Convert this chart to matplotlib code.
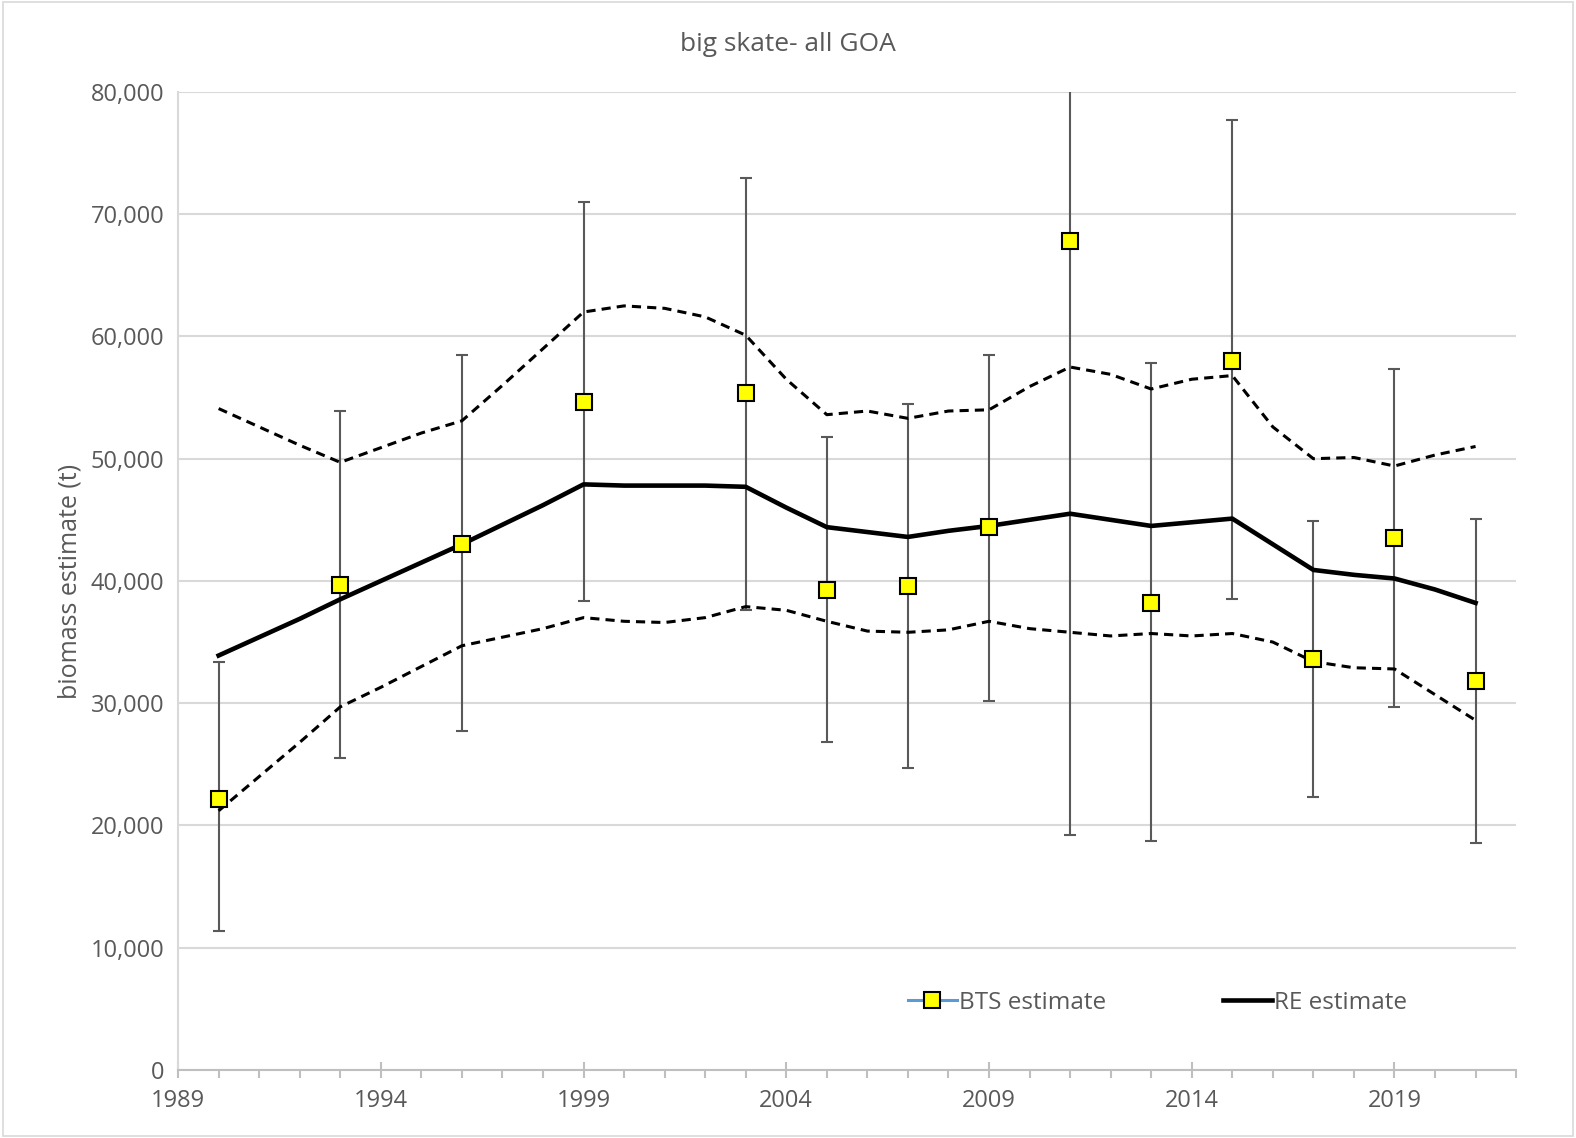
import numpy as np
import matplotlib.pyplot as plt
from matplotlib.lines import Line2D
from matplotlib.patches import Rectangle
from matplotlib.ticker import FuncFormatter, MultipleLocator, FixedLocator

# survey (BTS) estimates with error bar limits
bts_years = [1990, 1993, 1996, 1999, 2003, 2005, 2007, 2009, 2011, 2013, 2015, 2017, 2019, 2021]
bts_est = [22200, 39700, 43000, 54600, 55400, 39300, 39600, 44400, 67800, 38200, 58000, 33600, 43500, 31800]
bts_lo = [11400, 25500, 27700, 38400, 37600, 26800, 24700, 30200, 19200, 18700, 38500, 22300, 29700, 18600]
bts_hi = [33400, 53900, 58500, 71000, 73000, 51800, 54500, 58500, 86000, 57800, 77700, 44900, 57300, 45100]

# random effects model estimate and CI
re_years = list(range(1990, 2022))
re_est = [33900, 35400, 36900, 38500, 40000, 41500, 43000, 44600, 46200, 47900,
          47800, 47800, 47800, 47700, 46000, 44400, 44000, 43600, 44100, 44500,
          45000, 45500, 45000, 44500, 44800, 45100, 43000, 40900, 40500, 40200,
          39300, 38200]
re_hi = [54100, 52600, 51100, 49700, 50900, 52100, 53100, 56000, 59000, 62000,
         62500, 62300, 61600, 60100, 56500, 53600, 53900, 53300, 53900, 54000,
         55900, 57500, 56900, 55700, 56500, 56800, 52600, 50000, 50100, 49400,
         50300, 51000]
re_lo = [21200, 24000, 26800, 29700, 31300, 33000, 34700, 35400, 36100, 37000,
         36700, 36600, 37000, 37900, 37600, 36700, 35900, 35800, 36000, 36700,
         36100, 35800, 35500, 35700, 35500, 35700, 35000, 33400, 32900, 32800,
         30700, 28600]

x_ticks = list(range(1989, 2023, 5))

plt.rcParams['font.family'] = ['Open Sans', 'DejaVu Sans']
txt = '#595959'

fig = plt.figure(figsize=(15.76, 11.38), dpi=100)
ax = fig.add_axes([0.113, 0.0598, 0.849, 0.8594])

ax.yaxis.grid(True, color='#d9d9d9', linewidth=1.5)
ax.set_axisbelow(True)

est = np.array(bts_est)
yerr = [est - np.array(bts_lo), np.array(bts_hi) - est]
ax.errorbar(bts_years, bts_est, yerr=yerr, fmt='none', ecolor='#595959',
            elinewidth=1.5, capsize=4, capthick=1.5, zorder=2)

ax.plot(re_years, re_hi, color='black', linestyle=(0, (3, 2)), linewidth=2.2, zorder=3)
ax.plot(re_years, re_lo, color='black', linestyle=(0, (3, 2)), linewidth=2.2, zorder=3)
ax.plot(re_years, re_est, color='black', linewidth=3.3, zorder=3)
ax.plot(bts_years, bts_est, linestyle='none', marker='s', markersize=11,
        markerfacecolor='#ffff00', markeredgecolor='black', markeredgewidth=1.5, zorder=4)

ax.set_xlim(1989, 2022)
ax.set_ylim(0, 80000)
ax.xaxis.set_major_locator(FixedLocator(x_ticks))
ax.xaxis.set_minor_locator(MultipleLocator(1))
ax.yaxis.set_major_locator(MultipleLocator(10000))
ax.yaxis.set_major_formatter(FuncFormatter(lambda v, p: f'{int(v):,}'))

for s in ['top', 'right']:
    ax.spines[s].set_visible(False)
ax.spines['left'].set_color('#d9d9d9')
ax.spines['left'].set_linewidth(1.5)
ax.spines['bottom'].set_color('#bfbfbf')
ax.spines['bottom'].set_linewidth(1.5)

ax.tick_params(axis='y', length=0, labelsize=17, colors=txt, pad=10)
ax.tick_params(axis='x', which='major', direction='inout', length=12, width=1.5,
               color='#bfbfbf', labelsize=17, labelcolor=txt, pad=8)
ax.tick_params(axis='x', which='minor', direction='out', length=6, width=1.5, color='#bfbfbf')

ax.set_ylabel('biomass estimate (t)', fontsize=18, color=txt, labelpad=6)
fig.text(0.5, 0.961, 'big skate- all GOA', ha='center', va='center', fontsize=19, color=txt)

h_bts = Line2D([], [], color='#5b9bd5', linewidth=2.2, marker='s', markersize=11,
               markerfacecolor='#ffff00', markeredgecolor='black', markeredgewidth=1.5)
h_re = Line2D([], [], color='black', linewidth=3.3)
ax.legend([h_bts, h_re], ['BTS estimate', 'RE estimate'], ncol=2, frameon=False,
          loc='center', bbox_to_anchor=(0.732, 0.0685), fontsize=17.5, labelcolor=txt,
          handlelength=2.0, handletextpad=0.1, columnspacing=4.8)

fig.patches.append(Rectangle((0.002, 0.002), 0.996, 0.996, transform=fig.transFigure,
                             fill=False, edgecolor='#d9d9d9', linewidth=1.2))

fig.savefig('out.png', dpi=100)
